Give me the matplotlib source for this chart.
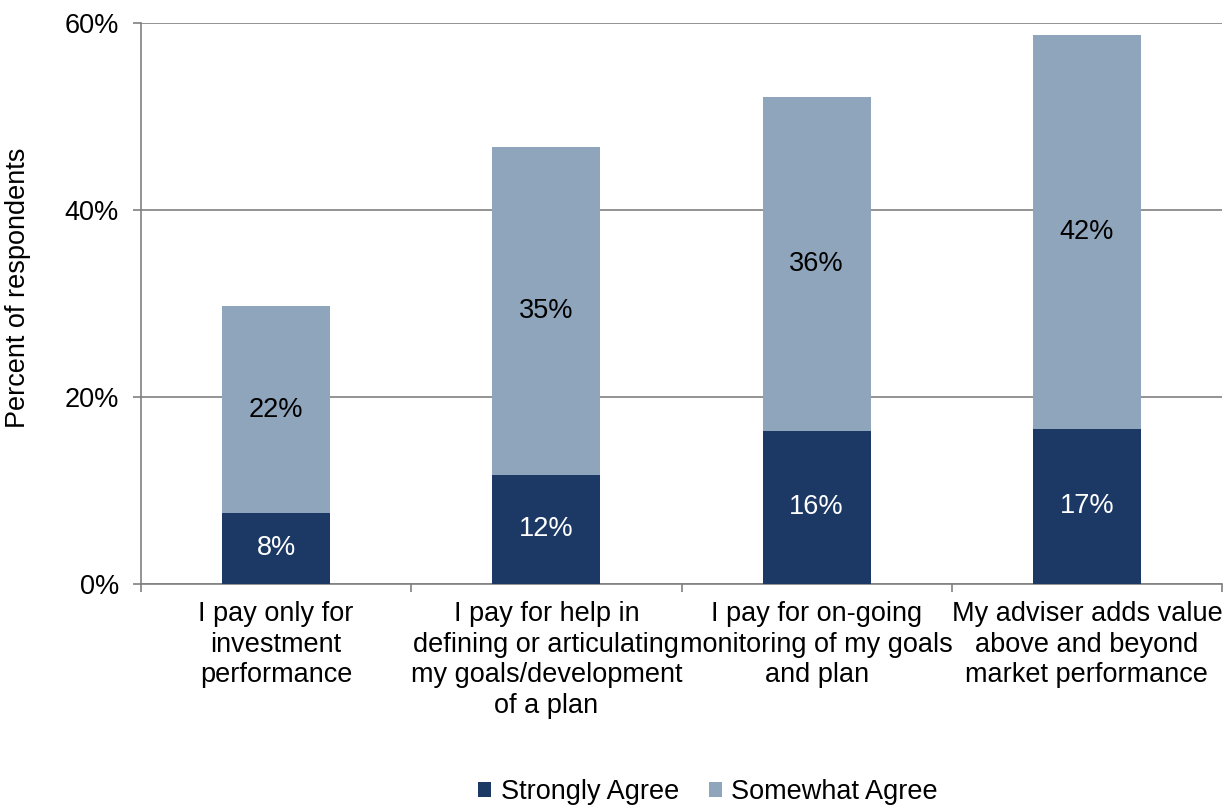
"""Stacked bars: share of respondents agreeing with each statement about adviser fees."""
import numpy as np
import matplotlib.pyplot as plt
from matplotlib.ticker import FuncFormatter

plt.rcParams["font.family"] = ["Liberation Sans", "DejaVu Sans"]

# -------------------------------------------------------
# Data (percent of respondents).
# -------------------------------------------------------
categories = [
    "I pay only for\ninvestment\nperformance",
    "I pay for help in\ndefining or articulating\nmy goals/development\nof a plan",
    "I pay for on-going\nmonitoring of my goals\nand plan",
    "My adviser adds value\nabove and beyond\nmarket performance",
    ]
strongly_agree = [7.6, 11.7, 16.4, 16.6]
somewhat_agree = [22.1, 35.0, 35.7, 42.1]

dark = "#1c3966"
light = "#8fa5bc"
axis_gray = "#808080"
fs = 19.5

# -------------------------------------------------------
# Plot.
# -------------------------------------------------------
fig = plt.figure(figsize=(12.24, 8.05), dpi=100)
ax = fig.add_axes([141/1224, 1-584/805, (1222-141)/1224, (584-23)/805])

x = np.arange(len(categories))
width = 0.40
b1 = ax.bar(x, strongly_agree, width, color=dark, label="Strongly Agree", zorder=3)
b2 = ax.bar(x, somewhat_agree, width, bottom=strongly_agree, color=light,
            label="Somewhat Agree", zorder=3)

# segment labels in the middle of each block:
for xi, s, w in zip(x, strongly_agree, somewhat_agree):
    ax.text(xi, s/2, "%.0f%%" % s, ha="center", va="center",
            color="white", fontsize=fs, zorder=4)
    ax.text(xi, s + w/2, "%.0f%%" % w, ha="center", va="center",
            color="black", fontsize=fs, zorder=4)

ax.set_xlim(-0.5, len(categories) - 0.5)
ax.set_ylim(0, 60)
ax.set_yticks([0, 20, 40, 60])
ax.yaxis.set_major_formatter(FuncFormatter(lambda v, p: "%d%%" % v))
ax.grid(axis="y", color=axis_gray, linewidth=1.2, zorder=0)

# category labels centred, tick marks between categories:
ax.set_xticks(x)
ax.set_xticklabels(categories, fontsize=fs, linespacing=1.22)
ax.set_xticks(np.arange(-0.5, len(categories)), minor=True)
ax.tick_params(axis="x", which="major", length=0, pad=12.5)
ax.tick_params(axis="x", which="minor", length=5.8, width=1.2, color=axis_gray)
ax.tick_params(axis="y", length=5.8, width=1.2, color=axis_gray,
               labelsize=fs, pad=10)

for side in ["top", "right"]:
    ax.spines[side].set_visible(False)
for side in ["left", "bottom"]:
    ax.spines[side].set_color(axis_gray)
    ax.spines[side].set_linewidth(1.2)

fig.text(18/1224, 1 - 288/805, "Percent of respondents", rotation=90,
         ha="center", va="center", fontsize=fs)

fig.legend(
    handles=[b1, b2],
    loc="center",
    bbox_to_anchor=(708/1224, 1 - 792/805),
    ncol=2,
    frameon=False,
    fontsize=fs,
    handlelength=0.48,
    handleheight=0.48,
    handletextpad=0.35,
    columnspacing=1.1,
    borderpad=0,
    )

fig.savefig("out.png", dpi=100)
